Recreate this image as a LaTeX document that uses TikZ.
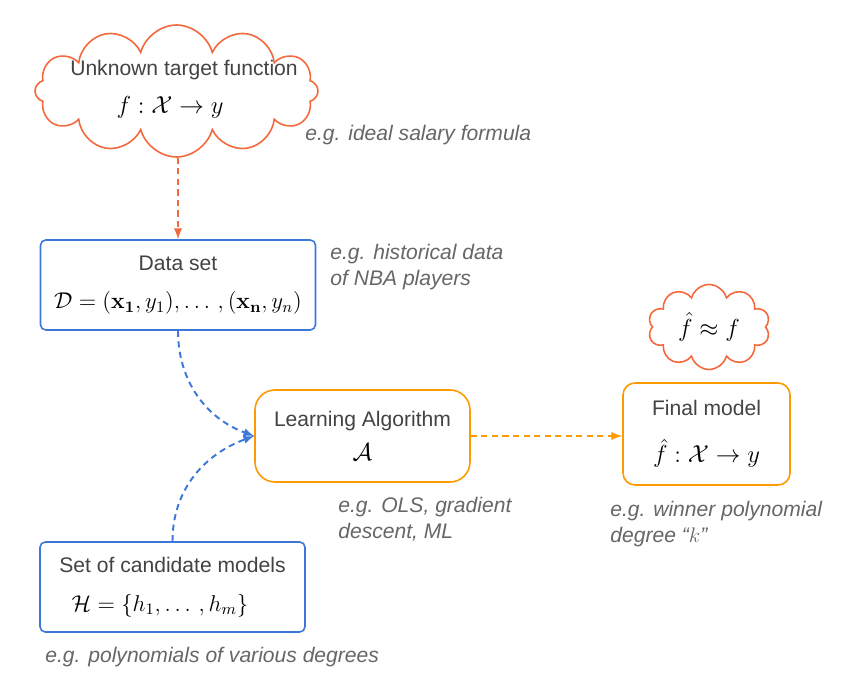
\RequirePackage{fix-cm}
\documentclass[tikz,border=0pt]{standalone}
\usepackage[reqno]{amsmath}
\usepackage{amssymb}
\usepackage[no-math]{fontspec}
\setmainfont{Liberation Sans}
\usepackage{tikz}
\usetikzlibrary{arrows,shapes.symbols}
\usepackage{xcolor}

\definecolor{cloudred}{HTML}{F4683C}
\definecolor{boxblue}{HTML}{3C78D8}
\definecolor{boxorange}{HTML}{FF9900}
\definecolor{titlegray}{HTML}{434343}
\definecolor{notegray}{HTML}{666666}

\tikzset{
  thought/.style = {cloud, cloud puffs=12, cloud ignores aspect, draw=cloudred, line width=0.9pt, align=center},
  bluebox/.style = {draw=boxblue, line width=0.9pt, rounded corners=3pt, align=center},
  orangebox/.style = {draw=boxorange, line width=0.9pt, align=center},
  note/.style = {text=notegray, inner sep=0pt, font=\fontsize{12}{14.5}\selectfont\itshape, align=left},
  flow/.style = {dash pattern=on 3.5pt off 2.5pt, line width=1.1pt, -latex}
}
\newcommand{\boxtitle}[1]{{\color{titlegray}\fontsize{12}{14}\selectfont #1}}
\newcommand{\formula}[1]{{\fontsize{14}{16}\selectfont $#1$}}
\newcommand{\smallformula}[1]{{\fontsize{13}{15}\selectfont $#1$}}

\begin{document}
\begin{tikzpicture}
\useasboundingbox (0, 0) rectangle (17.08, 13.8) ; 
\node(target) at (3.53, 11.98) [thought, minimum width = 5.66cm, minimum height = 2.64cm,
  label = {[xshift = 0.15cm, yshift = 0.42cm]center:\boxtitle{Unknown target function}},
  label = {[xshift = -0.13cm, yshift = -0.32cm]center:\formula{f : \mathcal{X} \rightarrow y}}] {} ; 
\node(dataset) at (3.56, 8.10) [bluebox, minimum width = 5.5cm, minimum height = 1.8cm] {\boxtitle{Data set}\\[10pt]\smallformula{\mathcal{D} = (\mathbf{x}_{\mathbf{1}}, y_1), \ldots\,, (\mathbf{x}_{\mathbf{n}}, y_n)}} ; 
\node(algorithm) at (7.25, 5.08) [orangebox, rounded corners = 0.4cm, minimum width = 4.3cm, minimum height = 1.84cm] {\boxtitle{Learning Algorithm}\\[6pt]\formula{\mathcal{A}}} ; 
\node(finalmodel) at (14.13, 5.12) [orangebox, rounded corners = 0.24cm, minimum width = 3.34cm, minimum height = 2.04cm] {\boxtitle{Final model}\\[12pt]\formula{\hat{f} : \mathcal{X} \rightarrow y}} ; 
\node(approx) at (14.18, 7.26) [thought, cloud puffs = 10, minimum width = 2.44cm, minimum height = 1.7cm] {\formula{\hat{f} \approx f}} ; 
\node(hypotheses) at (3.45, 2.06) [bluebox, minimum width = 5.3cm, minimum height = 1.8cm] {\boxtitle{Set of candidate models}\\[10pt]\smallformula{\mathcal{H} = \{h_1, \ldots\,, h_m\}}\hspace*{0.5cm}} ; 

\node(targetnote) at (6.1, 11.1) [note, anchor = west] {e.g. ideal salary formula} ; 
\node(datanote) at (6.6, 8.92) [note, anchor = north west] {e.g. historical data\\of NBA players} ; 
\node(algonote) at (6.76, 3.86) [note, anchor = north west] {e.g. OLS, gradient\\descent, ML} ; 
\node(finalnote) at (12.2, 3.78) [note, anchor = north west] {e.g. winner polynomial\\degree “$k$”} ; 
\node(hypnote) at (0.9, 0.66) [note, anchor = west] {e.g. polynomials of various degrees} ; 

\draw[flow, cloudred] (target.south -| dataset.north) -- (dataset.north) ; 
\draw[flow, boxblue] (dataset.south) to [out = -90, in = 160] (algorithm.west) ; 
\draw[flow, boxblue] (hypotheses.north) to [out = 90, in = 200] (algorithm.west) ; 
\draw[flow, boxorange] (algorithm.east) -- (algorithm.east -| finalmodel.west) ; 
\end{tikzpicture}
\end{document}
